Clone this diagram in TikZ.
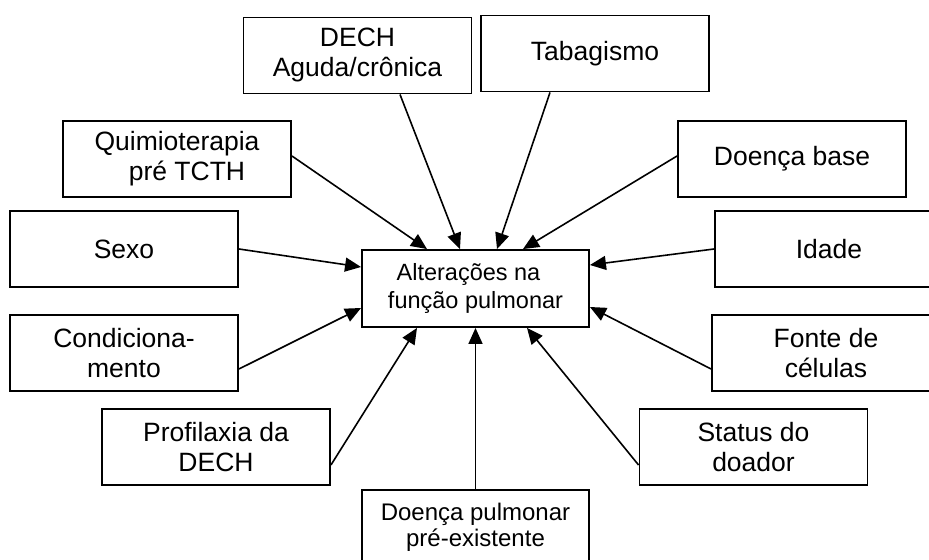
\documentclass[tikz,border=0pt]{standalone}
\usepackage{fontspec}
\setmainfont{Liberation Sans}
\usetikzlibrary{arrows.meta}
\begin{document}
\begin{tikzpicture}[x=1bp,y=-1bp,
  factor/.style={draw, line width=1.9bp, minimum width=228bp, minimum height=76bp,
    inner sep=0pt, align=center, font=\fontsize{26.5bp}{30bp}\selectfont},
  smallbox/.style={factor, font=\fontsize{23.5bp}{28bp}\selectfont},
  link/.style={line width=1.6bp, -{Triangle[length=16bp,width=14bp]}}]
\useasboundingbox (0,0) rectangle (929,560);
\clip (0,0) rectangle (929,560);
% outer factors
\node[factor] (dech)   at (357.5,55.5) {DECH\\Aguda/crônica};
\node[factor] (tab)    at (595,53.5)   {\raisebox{3bp}{Tabagismo}};
\node[factor] (quimio) at (177,159)    {Quimioterapia\\\hspace*{20bp}pré TCTH};
\node[factor] (base)   at (792,159)    {Doença base};
\node[factor] (sexo)   at (124,249)    {Sexo};
\node[factor] (idade)  at (829,249)    {Idade};
\node[factor] (cond)   at (124,353)    {Condiciona-\\mento};
\node[factor] (fonte)  at (826,353)    {Fonte de\\células};
\node[factor] (prof)   at (216,447)    {Profilaxia da\\DECH};
\node[factor] (status) at (753.5,447)  {Status do\\doador};
% central outcome
\node[smallbox, minimum width=227bp, minimum height=77bp] (centre) at (475.5,288.5)
  {Alterações na\hspace*{14bp}\\função pulmonar};
\node[smallbox, minimum width=227bp, font=\fontsize{24bp}{26.5bp}\selectfont] (dp) at (475.5,528)
  {\raisebox{6bp}{\shortstack{Doença pulmonar\\[0bp]pré-existente}}};
% influences
\draw[link] ([xshift=42.5bp]dech.south)  -- ([xshift=-15.5bp]centre.north);
\draw[link] ([xshift=-45bp]tab.south)    -- ([xshift=21.5bp]centre.north);
\draw[link] ([yshift=3bp]quimio.east)    -- ([xshift=-48.5bp]centre.north);
\draw[link] ([yshift=3bp]base.west)      -- ([xshift=47.5bp]centre.north);
\draw[link] (sexo.east)                  -- ([yshift=21.5bp]centre.west);
\draw[link] (idade.west)                 -- ([yshift=23.5bp]centre.east);
\draw[link] ([yshift=-16bp]cond.east)    -- ([yshift=-19.5bp]centre.west);
\draw[link] ([yshift=-16bp]fonte.west)   -- ([yshift=-18.5bp]centre.east);
\draw[link] ([yshift=-18bp]prof.east)    -- ([xshift=-58.5bp]centre.south);
\draw[link] ([yshift=-18bp]status.west)  -- ([xshift=51.5bp]centre.south);
\draw[link] (dp.north)                   -- (centre.south);
\end{tikzpicture}
\end{document}
